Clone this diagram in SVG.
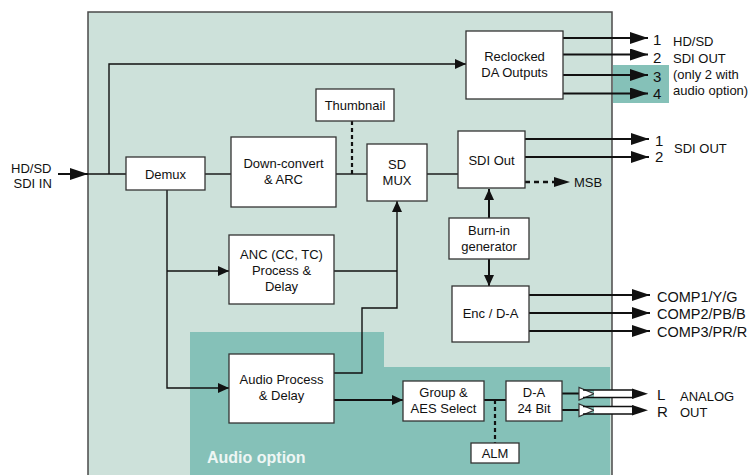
<svg xmlns="http://www.w3.org/2000/svg" width="752" height="475" viewBox="0 0 752 475">
<style>
.box{fill:#fff;stroke:#333;stroke-width:1.3}
.t{font-family:"Liberation Sans",Arial,sans-serif;font-size:13px;fill:#111;text-anchor:middle}
.l{font-family:"Liberation Sans",Arial,sans-serif;font-size:13px;fill:#111}
.n{font-family:"Liberation Sans",Arial,sans-serif;font-size:15px;fill:#111}
.c{font-family:"Liberation Sans",Arial,sans-serif;font-size:14.5px;fill:#111}
.w{stroke:#111;stroke-width:1.4;fill:none}
.o{stroke:#111;stroke-width:2;fill:none}
.d{stroke:#111;stroke-width:2.2;fill:none;stroke-dasharray:4,3}
</style>
<defs>
<marker id="big" markerUnits="userSpaceOnUse" markerWidth="18" markerHeight="12" refX="18" refY="6" orient="auto"><path d="M0,0 L18,6 L0,12 Z" fill="#111"/></marker>
<marker id="sm" markerUnits="userSpaceOnUse" markerWidth="11" markerHeight="10" refX="11" refY="5" orient="auto"><path d="M0,0 L11,5 L0,10 Z" fill="#111"/></marker>
</defs>
<rect x="88" y="12" width="524" height="470" fill="#cde1da" stroke="#4a4a4a" stroke-width="1.5"/>
<polygon points="190,332 384,332 384,367 610,367 610,475 190,475" fill="#85c1b8"/>
<rect x="613" y="65" width="56" height="38" fill="#85c1b8"/>
<text x="207" y="463" font-family="Liberation Sans,Arial,sans-serif" font-size="16" font-weight="bold" fill="#eef6f4">Audio option</text>
<g id="connectors">
<path class="o" d="M58,174 L88,174" marker-end="url(#big)"/>
<path class="w" d="M88,174 L126,174"/>
<path class="w" d="M109,174 L109,64 L466,64" marker-end="url(#sm)"/>
<path class="w" d="M205,174 L231,174"/>
<path class="w" d="M336,174 L367,174"/>
<path class="d" d="M352,121 L352,174"/>
<path class="w" d="M427,174 L458,174"/>
<path class="o" d="M563,38 L648,38" marker-end="url(#big)"/>
<path class="o" d="M563,54.5 L648,54.5" marker-end="url(#big)"/>
<path class="o" d="M563,75 L648,75" marker-end="url(#big)"/>
<path class="o" d="M563,93.5 L648,93.5" marker-end="url(#big)"/>
<path class="o" d="M525,139 L649,139" marker-end="url(#big)"/>
<path class="o" d="M525,157 L649,157" marker-end="url(#big)"/>
<path d="M525,182 L556,182" stroke="#111" stroke-width="2.5" stroke-dasharray="5,4" fill="none"/>
<path d="M554,177 L570,182 L554,187 Z" fill="#111"/>
<path class="o" d="M489,218 L489,189" marker-end="url(#sm)"/>
<path class="o" d="M489,259 L489,286" marker-end="url(#sm)"/>
<path class="o" d="M529,295 L650,295" marker-end="url(#big)"/>
<path class="o" d="M529,313 L650,313" marker-end="url(#big)"/>
<path class="o" d="M529,331 L650,331" marker-end="url(#big)"/>
<path class="w" d="M167,190 L167,388 L229,388" marker-end="url(#sm)"/>
<path class="w" d="M167,271 L229,271" marker-end="url(#sm)"/>
<path class="w" d="M334,271 L397,271"/>
<path class="w" d="M334,373 L362,373 L362,308 L397,308 L397,201" marker-end="url(#sm)"/>
<path class="o" d="M334,400 L403,400" marker-end="url(#sm)"/>
<path class="o" d="M484,400 L506,400"/>
<path class="d" d="M495,400 L495,443"/>
<path class="o" d="M562,393.5 L580,393.5"/>
<path class="o" d="M562,410 L580,410"/>
<polygon points="579,387.5 579,400 594,393.75" fill="#fff" stroke="#333" stroke-width="1.2"/>
<polygon points="579,404 579,416.5 594,410.25" fill="#fff" stroke="#333" stroke-width="1.2"/>
<rect x="594" y="390" width="40" height="7.5" fill="#fff"/>
<rect x="594" y="406.5" width="40" height="7.5" fill="#fff"/>
<path class="w" d="M583,390 L634,390 M583,397.5 L634,397.5 M583,406.5 L634,406.5 M583,414 L634,414"/>
<path d="M632,388.5 L648,393.75 L632,399 Z" fill="#111"/>
<path d="M632,405 L648,410.25 L632,415.5 Z" fill="#111"/>
</g>
<g id="demux"><rect class="box" x="126" y="157" width="79" height="33"/><text class="t" x="165.5" y="178.5">Demux</text></g>
<g id="downconvert"><rect class="box" x="231" y="137" width="105" height="70"/><text class="t" x="283.5" y="167.5">Down-convert</text><text class="t" x="283.5" y="183.5">&amp; ARC</text></g>
<g id="thumbnail"><rect class="box" x="316" y="89" width="78" height="32"/><text class="t" x="355" y="109.5">Thumbnail</text></g>
<g id="sdmux"><rect class="box" x="367" y="144" width="60" height="57"/><text class="t" x="397" y="168.5">SD</text><text class="t" x="397" y="184.5">MUX</text></g>
<g id="reclocked"><rect class="box" x="466" y="31" width="97" height="68"/><text class="t" x="514.5" y="60.5">Reclocked</text><text class="t" x="514.5" y="76.5">DA Outputs</text></g>
<g id="sdiout"><rect class="box" x="458" y="131" width="67" height="57"/><text class="t" x="491.5" y="164.5">SDI Out</text></g>
<g id="burnin"><rect class="box" x="449" y="218" width="80" height="41"/><text class="t" x="489" y="235">Burn-in</text><text class="t" x="489" y="251">generator</text></g>
<g id="enc"><rect class="box" x="452" y="286" width="77" height="56"/><text class="t" x="490.5" y="318">Enc / D-A</text></g>
<g id="anc"><rect class="box" x="229" y="235" width="105" height="69"/><text class="t" x="281.5" y="258.5">ANC (CC, TC)</text><text class="t" x="281.5" y="274.5">Process &amp;</text><text class="t" x="281.5" y="290.5">Delay</text></g>
<g id="audio"><rect class="box" x="229" y="354" width="105" height="69"/><text class="t" x="281.5" y="384">Audio Process</text><text class="t" x="281.5" y="400">&amp; Delay</text></g>
<g id="group"><rect class="box" x="403" y="381" width="81" height="40"/><text class="t" x="443.5" y="397">Group &amp;</text><text class="t" x="443.5" y="413">AES Select</text></g>
<g id="da24"><rect class="box" x="506" y="381" width="56" height="40"/><text class="t" x="534" y="397">D-A</text><text class="t" x="534" y="413">24 Bit</text></g>
<g id="alm"><rect class="box" x="471" y="443" width="48" height="20"/><text class="t" x="495" y="457.5">ALM</text></g>
<g id="labels">
<text class="l" x="11" y="172.5">HD/SD</text>
<text class="l" x="13.5" y="188">SDI IN</text>
<text class="n" x="653" y="45">1</text><text class="n" x="653" y="63">2</text><text class="n" x="653" y="81.5">3</text><text class="n" x="653" y="99">4</text>
<text class="l" x="673" y="45.5">HD/SD</text>
<text class="l" x="673" y="62.5">SDI OUT</text>
<text class="l" x="673" y="79">(only 2 with</text>
<text class="l" x="673" y="95">audio option)</text>
<text class="n" x="655" y="145.5">1</text><text class="n" x="655" y="162">2</text>
<text class="l" x="674" y="153">SDI OUT</text>
<text class="l" x="574" y="187">MSB</text>
<text class="c" x="657" y="302">COMP1/Y/G</text>
<text class="c" x="657" y="319">COMP2/PB/B</text>
<text class="c" x="657" y="336.5">COMP3/PR/R</text>
<text class="n" x="657" y="400">L</text><text class="n" x="657" y="417">R</text>
<text class="l" x="680" y="401">ANALOG</text>
<text class="l" x="680" y="417">OUT</text>
</g>
</svg>
